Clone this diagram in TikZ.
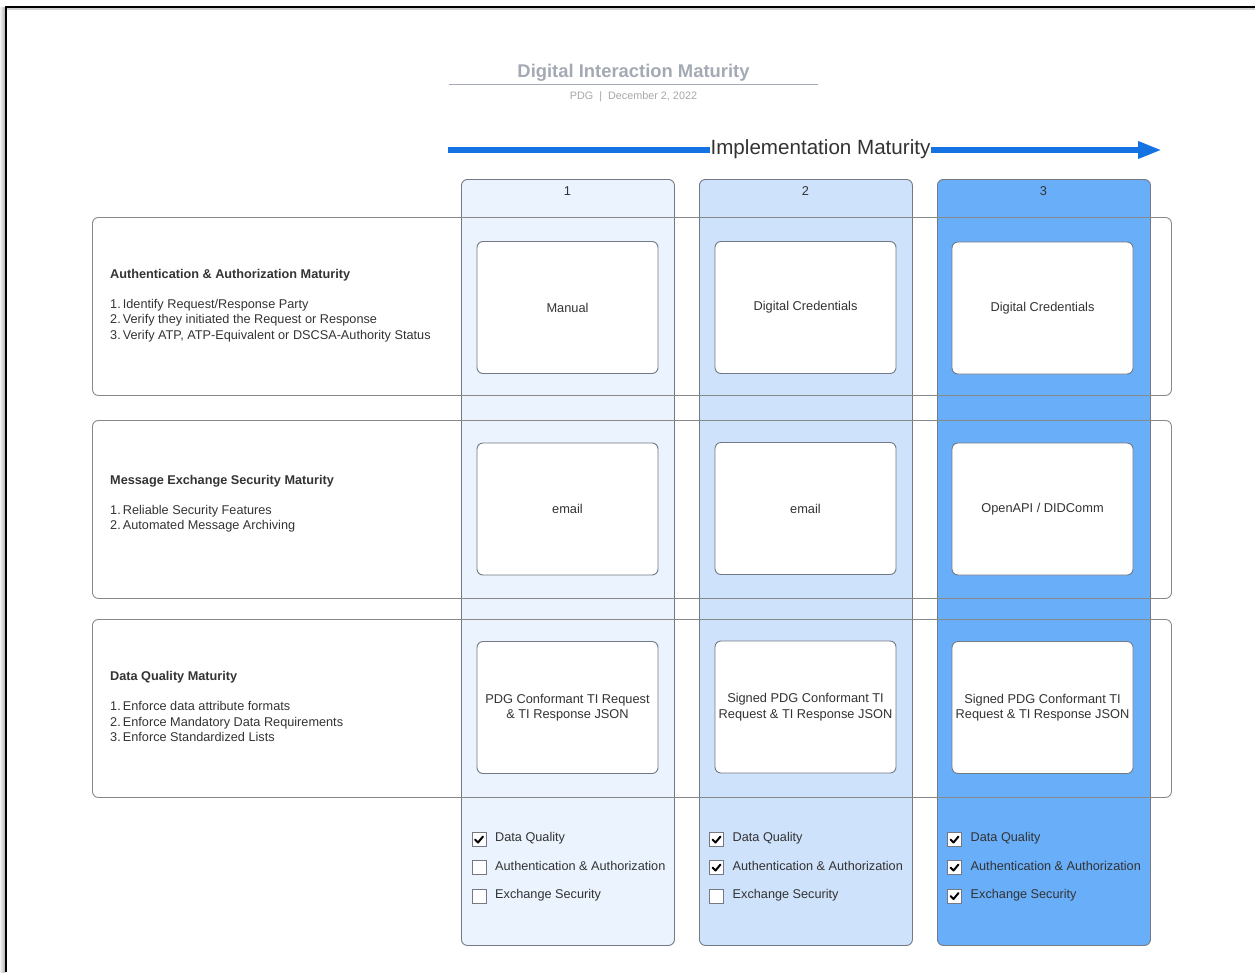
\documentclass[tikz,border=0pt]{standalone}
\usepackage{fontspec}
\setmainfont{Liberation Sans}
\usetikzlibrary{arrows.meta}
\definecolor{cA}{HTML}{EBF3FE}
\definecolor{cB}{HTML}{CFE2FB}
\definecolor{cC}{HTML}{69AEF9}
\definecolor{colborder}{HTML}{737983}
\definecolor{rowborder}{HTML}{888888}
\definecolor{txt}{HTML}{333333}
\definecolor{titlegray}{HTML}{A4AAB4}
\definecolor{subgray}{HTML}{A6A6A6}
\definecolor{arrowblue}{HTML}{1472E3}
\tikzset{
  colbox/.style={draw=colborder, line width=0.9pt, rounded corners=6pt, anchor=north west, inner sep=0pt, minimum width=213pt, minimum height=766pt},
  rowbox/.style={draw=rowborder, line width=0.9pt, rounded corners=6pt, anchor=north west, inner sep=0pt, minimum width=1079pt, minimum height=178pt},
  cell/.style={draw=colborder, line width=0.9pt, fill=white, rounded corners=6pt, minimum width=181pt, minimum height=132pt, align=center, text=txt, inner sep=0pt, font=\fontsize{12.8}{15.5}\selectfont},
  collabel/.style={text=txt, font=\fontsize{12.8}{15}\selectfont, inner sep=0pt},
  rowtitle/.style={anchor=base west, text=txt, inner sep=0pt, font=\bfseries\fontsize{12.7}{15}\selectfont},
  rowitem/.style={anchor=base west, text=txt, inner sep=0pt, font=\fontsize{12.7}{15}\selectfont},
  chk/.style={draw=colborder, line width=0.8pt, fill=white, minimum size=14pt, inner sep=0pt},
  chklabel/.style={anchor=base west, text=txt, inner sep=0pt, font=\fontsize{12.7}{15}\selectfont},
  tick/.style={line width=2pt, black, line cap=round, line join=round},
}
\begin{document}
\begin{tikzpicture}[x=1pt,y=-1pt]
\useasboundingbox (0,0) rectangle (1255,972);
% page frame
\shade[left color=gray!10, right color=gray!60] (0,7) rectangle (5,972);
\fill[gray!35] (6,8) rectangle (1255,9.5);
\draw[line width=2pt, black] (6,972) -- (6,7) -- (1255,7);

% title
\node[text=titlegray, font=\bfseries\fontsize{18.4}{22}\selectfont, inner sep=0pt] (title) at (633.5,73) {Digital Interaction Maturity};
\coordinate (tl) at (449,84.5);
\coordinate (tr) at (818,84.5);
\draw[color=titlegray, line width=0.9pt] (tl) -- (tr);
\node[text=subgray, font=\fontsize{10.8}{13}\selectfont, inner sep=0pt] (sub) at (633.5,96.5) {PDG \;|\; December 2, 2022};

% maturity arrow
\coordinate (as) at (448,150);
\coordinate (ae) at (1162,150);
\draw[arrowblue, line width=6pt, -{Triangle[length=24pt,width=16pt]}] (as) -- (ae);
\node[fill=white, text=txt, inner xsep=0.5pt, inner ysep=1pt, font=\fontsize{20.6}{24}\selectfont] (impl) at (820.5,149) {Implementation Maturity};

% columns
\node[colbox, fill=cA] (col1) at (461,179) {};
\node[colbox, fill=cB] (col2) at (699,179) {};
\node[colbox, fill=cC] (col3) at (937,179) {};
\node[collabel] (n1) at (567.5,191) {1};
\node[collabel] (n2) at (805.5,191) {2};
\node[collabel] (n3) at (1043.5,191.5) {3};

% rows
\node[rowbox] (row1) at (92,217) {};
\node[rowbox] (row2) at (92,420) {};
\node[rowbox] (row3) at (92,619) {};

% row labels
\node[rowtitle] (r1t) at (110,278) {Authentication \& Authorization Maturity};
\node[rowitem] (r1a) at (110,308) {1.\,Identify Request/Response Party};
\node[rowitem] (r1b) at (110,323.5) {2.\,Verify they initiated the Request or Response};
\node[rowitem] (r1c) at (110,339) {3.\,Verify ATP, ATP-Equivalent or DSCSA-Authority Status};

\node[rowtitle] (r2t) at (110,484) {Message Exchange Security Maturity};
\node[rowitem] (r2a) at (110,514) {1.\,Reliable Security Features};
\node[rowitem] (r2b) at (110,529.5) {2.\,Automated Message Archiving};

\node[rowtitle] (r3t) at (110,680) {Data Quality Maturity};
\node[rowitem] (r3a) at (110,710.5) {1.\,Enforce data attribute formats};
\node[rowitem] (r3b) at (110,726) {2.\,Enforce Mandatory Data Requirements};
\node[rowitem] (r3c) at (110,741.5) {3.\,Enforce Standardized Lists};

% cells
\node[cell] (a1) at (567.5,307.5) {Manual};
\node[cell] (a2) at (805.5,307.5) {Digital Credentials};
\node[cell] (a3) at (1042.5,308) {Digital Credentials};
\node[cell] (b1) at (567.5,509) {email};
\node[cell] (b2) at (805.5,508.5) {email};
\node[cell] (b3) at (1042.5,509) {OpenAPI / DIDComm};
\node[cell] (d1) at (567.5,707.5) {PDG Conformant TI Request\\\& TI Response JSON};
\node[cell] (d2) at (805.5,707) {Signed PDG Conformant TI\\Request \& TI Response JSON};
\node[cell] (d3) at (1042.5,707.5) {Signed PDG Conformant TI\\Request \& TI Response JSON};

% checkboxes column 1
\node[chk] (k1a) at (479,839.5) {};
\node[chk] (k1b) at (479,867.5) {};
\node[chk] (k1c) at (479,896) {};
\node[chklabel] (l1a) at (495,841.5) {Data Quality};
\node[chklabel] (l1b) at (495,870) {Authentication \& Authorization};
\node[chklabel] (l1c) at (495,898.5) {Exchange Security};
\draw[tick] ([shift={(-4,0)}]k1a.center) -- ++(3,3) -- ++(5,-6);

% checkboxes column 2
\node[chk] (k2a) at (716.5,839.5) {};
\node[chk] (k2b) at (716.5,867.5) {};
\node[chk] (k2c) at (716.5,896) {};
\node[chklabel] (l2a) at (732.5,841.5) {Data Quality};
\node[chklabel] (l2b) at (732.5,870) {Authentication \& Authorization};
\node[chklabel] (l2c) at (732.5,898.5) {Exchange Security};
\draw[tick] ([shift={(-4,0)}]k2a.center) -- ++(3,3) -- ++(5,-6);
\draw[tick] ([shift={(-4,0)}]k2b.center) -- ++(3,3) -- ++(5,-6);

% checkboxes column 3
\node[chk] (k3a) at (954.5,839.5) {};
\node[chk] (k3b) at (954.5,867.5) {};
\node[chk] (k3c) at (954.5,896) {};
\node[chklabel] (l3a) at (970.5,841.5) {Data Quality};
\node[chklabel] (l3b) at (970.5,870) {Authentication \& Authorization};
\node[chklabel] (l3c) at (970.5,898.5) {Exchange Security};
\draw[tick] ([shift={(-4,0)}]k3a.center) -- ++(3,3) -- ++(5,-6);
\draw[tick] ([shift={(-4,0)}]k3b.center) -- ++(3,3) -- ++(5,-6);
\draw[tick] ([shift={(-4,0)}]k3c.center) -- ++(3,3) -- ++(5,-6);
\end{tikzpicture}
\end{document}
